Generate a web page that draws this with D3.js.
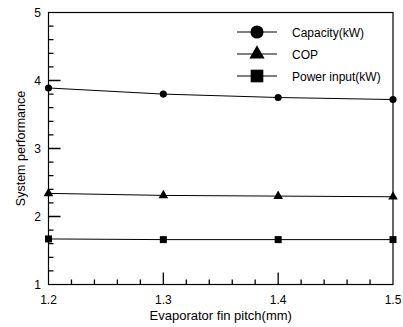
<!DOCTYPE html>
<html>
<head>
<meta charset="utf-8">
<script src="https://cdn.jsdelivr.net/npm/d3@7/dist/d3.min.js"></script>
<style>
  html, body { margin: 0; padding: 0; background: #fff; }
  svg { display: block; font-family: "Liberation Sans", Arial, Helvetica, sans-serif; }
</style>
</head>
<body>
<svg id="chart" width="403" height="327"></svg>
<script>
// Fin pitch values (mm) on the x axis
const finPitch = [1.2, 1.3, 1.4, 1.5];
// Series values
const capacity = [3.89, 3.80, 3.75, 3.72];
const cop = [2.34, 2.31, 2.30, 2.29];
const powerInput = [1.67, 1.66, 1.66, 1.66];
// Tick labels
const xTicks = [1.2, 1.3, 1.4, 1.5];
const yTicks = [1, 2, 3, 4, 5];
const seriesNames = ["Capacity(kW)", "COP", "Power input(kW)"];

const svg = d3.select("#chart");
const x = d3.scaleLinear().domain([1.2, 1.5]).range([48.5, 393]);
const y = d3.scaleLinear().domain([1, 5]).range([284.5, 12.5]);

const g = svg.append("g");

// Frame
g.append("rect")
  .attr("x", x(1.2)).attr("y", y(5))
  .attr("width", x(1.5) - x(1.2)).attr("height", y(1) - y(5))
  .attr("fill", "none").attr("stroke", "#000").attr("stroke-width", 1.2);

// Inward tick marks along the left and bottom edges, drawn as one path
const yMajor = [2, 3, 4];
const yMinor = d3.range(6, 25).map(i => i / 5).filter(v => Math.abs(v - Math.round(v)) > 1e-6);
const xMajor = [1.3, 1.4];
const xMinor = d3.range(61, 75).map(i => i / 50).filter(v => Math.abs(v * 10 - Math.round(v * 10)) > 1e-6);

const tickPath = d3.path();
yMajor.forEach(v => { tickPath.moveTo(x(1.2), y(v)); tickPath.lineTo(x(1.2) + 12, y(v)); });
yMinor.forEach(v => { tickPath.moveTo(x(1.2), y(v)); tickPath.lineTo(x(1.2) + 5, y(v)); });
xMajor.forEach(v => { tickPath.moveTo(x(v), y(1)); tickPath.lineTo(x(v), y(1) - 12); });
xMinor.forEach(v => { tickPath.moveTo(x(v), y(1)); tickPath.lineTo(x(v), y(1) - 5); });
g.append("path").attr("d", tickPath.toString())
  .attr("fill", "none").attr("stroke", "#000").attr("stroke-width", 1.3);

// Tick labels
g.selectAll("text.yl").data(yTicks).enter().append("text")
  .attr("class", "yl")
  .attr("x", 41).attr("y", d => y(d)).attr("dy", "0.36em")
  .attr("text-anchor", "end").attr("font-size", 12).attr("fill", "#000")
  .text(d3.format("d"));
g.selectAll("text.xl").data(xTicks).enter().append("text")
  .attr("class", "xl")
  .attr("x", d => x(d)).attr("y", 304)
  .attr("text-anchor", "middle").attr("font-size", 12).attr("fill", "#000")
  .text(d3.format(".1f"));

// Axis titles
g.append("text")
  .attr("x", (x(1.2) + x(1.5)) / 2).attr("y", 320)
  .attr("text-anchor", "middle").attr("font-size", 13).attr("fill", "#000")
  .text("Evaporator fin pitch(mm)");
g.append("text")
  .attr("transform", `translate(25,${(y(1) + y(5)) / 2}) rotate(-90)`)
  .attr("text-anchor", "middle").attr("font-size", 12.5).attr("fill", "#000")
  .text("System performance");

// Marker shapes
const symbols = [d3.symbolCircle, d3.symbolTriangle, d3.symbolSquare];
const seriesData = [capacity, cop, powerInput];
const plotSizes = [40, 40, 49];
const legendSizes = [135, 100, 160];

const line = d3.line().x((d, i) => x(finPitch[i])).y(d => y(d));
seriesData.forEach((vals, s) => {
  g.append("path").datum(vals).attr("d", line)
    .attr("fill", "none").attr("stroke", "#000").attr("stroke-width", 1);
  g.selectAll(null).data(vals).enter().append("path")
    .attr("transform", (d, i) => `translate(${x(finPitch[i])},${y(d)})`)
    .attr("d", d3.symbol().type(symbols[s]).size(plotSizes[s]))
    .attr("fill", "#000");
});

// Legend
const leg = g.append("g").attr("transform", "translate(257,32)");
seriesNames.forEach((name, s) => {
  const row = leg.append("g").attr("transform", `translate(0,${s * 22})`);
  row.append("line").attr("x1", -20).attr("x2", 20).attr("y1", 0).attr("y2", 0)
    .attr("stroke", "#000").attr("stroke-width", 1);
  row.append("path").attr("d", d3.symbol().type(symbols[s]).size(legendSizes[s])).attr("fill", "#000");
  row.append("text").attr("x", 35).attr("y", 4.5).attr("font-size", 12).attr("fill", "#000").text(name);
});
</script>
</body>
</html>
